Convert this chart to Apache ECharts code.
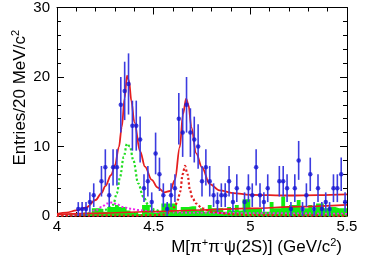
<!DOCTYPE html>
<html><head><meta charset="utf-8">
<script src="https://cdn.jsdelivr.net/npm/echarts@6/dist/echarts.min.js"></script>
<style>html,body{margin:0;padding:0;background:#fff}#c{width:365px;height:267px}</style>
</head><body><div id="c"></div>
<script>
// ---- Data (20 MeV bins from 4.00 to 5.50 GeV) ----
const binStart = 4.0, binWidth = 0.02;
const counts = [
 0,0,0,0,0, 1,1,1,2,3, 0,5,7,3,7, 7,16,18,19,13,
 13,11,4,5,2, 9,6,3,1,3, 4,14,12,16,12, 11,10,5,7,5,
 3,2,3,3,5, 2,4,0,2,4, 3,7,3,2,4, 0,0,5,5,4,
 1,4,8,1,3, 6,1,4,1,2, 1,4,4,6,2];
const errors = [
 0,0,0,0,0, 1,1,1,1.4,1.7, 0,2.2,2.6,1.7,2.6, 2.6,4,4.2,4.4,3.6,
 3.6,3.3,2,2.2,1.4, 3,2.4,1.7,1,1.7, 2,3.7,3.5,4,3.5, 3.3,3.2,2.2,2.6,2.2,
 1.7,1.4,1.7,1.7,2.2, 1.4,2,0,1.4,2, 1.7,2.6,1.7,1.4,2, 0,0,2.2,2.2,2,
 1,2,2.8,1,1.7, 2.4,1,2,1,1.4, 1,2,2,2.4,1.4];
const sidebandHist = [
 0,0,0,0.3,0, 0.3,0.5,0.3,0.5,1.1, 1.1,1.0,0.6,1.3,1.3, 1.6,1.3,1.3,0.8,0.5,
 0.6,0.3,1.6,1.6,0.8, 0.5,0.6,1.8,1.8,1.8, 1.8,0.6,1.3,1.3,1.4, 1.4,0.8,1.1,0.6,1.6,
 1.1,1.1,1.1,0.6,1.3, 0.8,1.6,0.8,2.4,2.4, 1.1,1.1,1.1,0.6,0.6, 2.0,1.1,1.1,2.8,1.3,
 1.6,1.6,2.3,0.8,1.1, 1.6,0.8,1.8,1.8,1.1, 1.3,1.3,1.1,1.1,1.1];

// fit curves: [mass, entries]
const totalFit = [[4.00,0.3],[4.05,0.5],[4.10,0.8],[4.15,1.2],[4.20,2.3],[4.23,3.3],[4.25,4.3],[4.28,5.9],[4.30,7.3],[4.32,9.9],[4.335,12.8],[4.35,17.0],[4.362,20.2],[4.372,19.5],[4.385,16.5],[4.40,13.5],[4.43,9.3],[4.455,7.1],[4.49,5.2],[4.52,4.1],[4.555,3.4],[4.585,3.6],[4.61,5.2],[4.635,9.9],[4.652,14.7],[4.668,16.9],[4.68,16.0],[4.695,12.8],[4.72,9.0],[4.75,7.0],[4.79,4.6],[4.84,3.7],[4.91,3.3],[5.0,3.05],[5.2,2.95],[5.35,3.0],[5.5,3.1]];
const bkgFit = [[4.0,0.2],[4.25,0.42],[4.5,0.65],[4.75,0.87],[5.0,1.1],[5.25,1.35],[5.5,1.6]];
const peak1 = [[4.0,0.1],[4.1,0.2],[4.2,0.5],[4.25,0.9],[4.29,1.6],[4.31,3.3],[4.326,5.6],[4.345,8.5],[4.362,10.4],[4.377,10.0],[4.395,8.0],[4.42,4.7],[4.446,2.8],[4.472,1.6],[4.507,0.9],[4.55,0.5],[4.65,0.3],[4.8,0.15],[5.0,0.1],[5.5,0.05]];
const peak2 = [[4.0,0.03],[4.2,0.04],[4.4,0.05],[4.5,0.1],[4.55,0.2],[4.583,0.5],[4.609,1.3],[4.625,2.3],[4.637,3.5],[4.65,6.0],[4.662,7.2],[4.675,6.0],[4.688,3.7],[4.70,2.6],[4.72,1.8],[4.75,1.1],[4.8,0.6],[4.9,0.25],[5.0,0.12],[5.5,0.05]];
const otherBkg = [[4.0,0.05],[4.1,0.2],[4.15,0.4],[4.2,0.8],[4.23,1.3],[4.26,1.8],[4.285,1.95],[4.31,1.7],[4.34,1.3],[4.38,1.05],[4.42,0.85],[4.5,0.6],[4.6,0.5],[4.8,0.45],[5.0,0.4],[5.5,0.3]];
const xTicks = [4, 4.5, 5, 5.5];
const yTicks = [0, 10, 20, 30];

// ---- build ----
const pts = [], bars = [], hist = [];
for (let i = 0; i < counts.length; i++) {
  const c = +(binStart + binWidth * (i + 0.5)).toFixed(3);
  if (counts[i] > 0) { pts.push([c, counts[i]]); bars.push([c, counts[i] - errors[i], counts[i] + errors[i]]); }
  hist.push([+(binStart + binWidth * i).toFixed(3), sidebandHist[i]]);
}
hist.push([+(binStart + binWidth * counts.length).toFixed(3), sidebandHist[sidebandHist.length - 1]]);

const F = 'Liberation Sans, Arial, Helvetica, sans-serif';
const axCommon = {
  type: 'value', splitLine: { show: false },
  axisLine: { show: true, onZero: false, lineStyle: { color: '#000', width: 1 } },
  axisTick: { show: true, inside: true, length: 7, lineStyle: { color: '#000' } },
  minorTick: { show: true, splitNumber: 5, length: 4, lineStyle: { color: '#000' } }
};
const chart = echarts.init(document.getElementById('c'), null, { renderer: 'canvas' });
const curve = (data, color, width, type, z) => ({
  type: 'line', data, showSymbol: false, symbol: 'none', smooth: 0.35, smoothMonotone: 'x',
  lineStyle: { color, width, type }, z, silent: true, animation: false, clip: true
});
chart.setOption({
  animation: false,
  grid: { left: 57, right: 18, top: 7, bottom: 51 },
  xAxis: [
    Object.assign({}, axCommon, { min: xTicks[0], max: xTicks[xTicks.length - 1], interval: 0.5, position: 'bottom',
      axisLabel: { fontSize: 15, color: '#000', fontFamily: F, margin: 3 } }),
    Object.assign({}, axCommon, { min: xTicks[0], max: xTicks[xTicks.length - 1], interval: 0.5, position: 'top', axisLabel: { show: false } })
  ],
  yAxis: [
    Object.assign({}, axCommon, { min: yTicks[0], max: yTicks[yTicks.length - 1], interval: 10, position: 'left',
      axisLabel: { fontSize: 15, color: '#000', fontFamily: F, margin: 7 } }),
    Object.assign({}, axCommon, { min: yTicks[0], max: yTicks[yTicks.length - 1], interval: 10, position: 'right', axisLabel: { show: false } })
  ],
  graphic: [
    { type: 'text', x: 342, y: 247, z: 100,
      style: { text: 'M[π{s|+}π{s|-}ψ(2S)] (GeV/c{s|2})', fontSize: 17, fontFamily: F, fill: '#000', align: 'right', verticalAlign: 'middle',
        rich: { s: { fontSize: 11, fontFamily: F, verticalAlign: 'top', lineHeight: 20 } } } },
    { type: 'text', x: 20, y: 30, rotation: Math.PI / 2, z: 100,
      style: { text: 'Entries/20 MeV/c{s|2}', fontSize: 17, fontFamily: F, fill: '#000', align: 'right', verticalAlign: 'middle',
        rich: { s: { fontSize: 11, fontFamily: F, verticalAlign: 'top', lineHeight: 20 } } } }
  ],
  series: [
    { type: 'line', data: hist, step: 'end', showSymbol: false, symbol: 'none',
      lineStyle: { width: 0 }, areaStyle: { color: '#11ee11', opacity: 1 }, z: 1, animation: false },
    curve(otherBkg, '#ee22ee', 2, 'dotted', 2),
    curve(peak1, '#22dd22', 2.2, 'dotted', 3),
    curve(peak2, '#e02020', 2.2, 'dotted', 3),
    curve(bkgFit, '#e51e1e', 1.6, 'solid', 4),
    curve(totalFit, '#e51e1e', 1.8, 'solid', 5),
    { type: 'custom', data: bars, z: 6, animation: false,
      renderItem: (params, api) => {
        const a = api.coord([api.value(0), api.value(1)]), b = api.coord([api.value(0), api.value(2)]);
        return { type: 'line', shape: { x1: a[0], y1: a[1], x2: b[0], y2: b[1] }, style: { stroke: '#3c3ce0', lineWidth: 1.6 } };
      } },
    { type: 'scatter', data: pts, symbol: 'circle', symbolSize: 4.5, itemStyle: { color: '#1414d2' }, z: 7, animation: false }
  ]
});
</script></body></html>
